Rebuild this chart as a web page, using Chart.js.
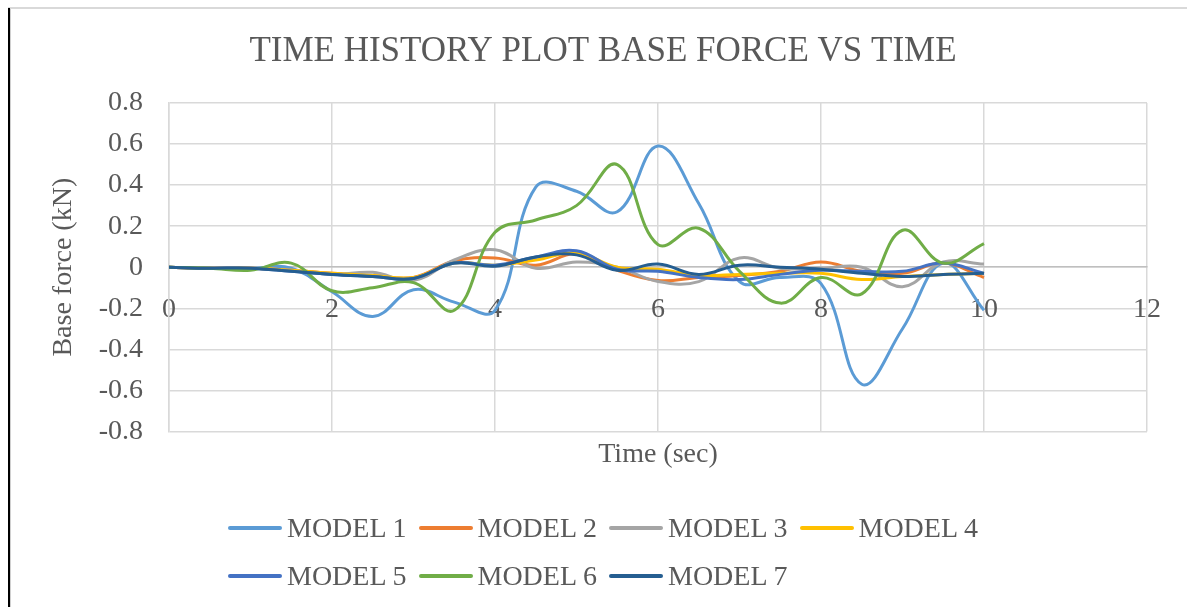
<!DOCTYPE html>
<html>
<head>
<meta charset="utf-8">
<script src="https://cdn.jsdelivr.net/npm/chart.js@4.4.1/dist/chart.umd.min.js"></script>
<style>
  html, body { margin: 0; padding: 0; background: #fff; }
  #wrap { position: relative; width: 1187px; height: 607px; overflow: hidden; }
  #chart { position: absolute; left: 0; top: 0; }
  .frameTop { position: absolute; left: 8px; top: 7px; width: 1179px; height: 2px; background: #d9d9d9; }
  .frameLeft { position: absolute; left: 8px; top: 8px; width: 2px; height: 599px; background: #000; }
  .frameLeft2 { position: absolute; left: 10px; top: 9px; width: 1px; height: 598px; background: #d0d0d0; }
  #legend {
    position: absolute; left: 228px; top: 504px;
    display: grid; grid-template-columns: repeat(4, 190.5px); grid-auto-rows: 48px;
    font-family: 'Liberation Serif', 'Times New Roman', serif; font-size: 28px; color: #595959;
  }
  .item { display: flex; align-items: center; white-space: nowrap; }
  .swatch { width: 54px; height: 4px; border-radius: 2px; margin-right: 5px; }
</style>
</head>
<body>
<div id="wrap">
  <canvas id="chart" width="1187" height="607"></canvas>
  <div class="frameTop"></div>
  <div class="frameLeft"></div>
  <div class="frameLeft2"></div>
  <div id="legend"></div>
</div>
<script>
// time steps (sec)
const times = [0, 0.5, 1, 1.5, 2, 2.5, 3, 3.5, 4, 4.5, 5, 5.5, 6, 6.5, 7, 7.5, 8, 8.5, 9, 9.5, 10];

// base force (kN) per model
const model1 = [0, -0.005, -0.005, -0.005, -0.12, -0.24, -0.11, -0.17, -0.21, 0.39, 0.37, 0.27, 0.59, 0.31, -0.07, -0.05, -0.08, -0.57, -0.3, 0.02, -0.21];
const model2 = [0, -0.005, -0.005, -0.015, -0.03, -0.04, -0.05, 0.03, 0.045, 0.01, 0.065, -0.015, -0.065, -0.05, -0.04, -0.02, 0.025, -0.02, -0.03, 0.02, -0.05];
const model3 = [0, -0.005, -0.005, -0.015, -0.035, -0.025, -0.065, 0.035, 0.085, -0.005, 0.025, 0, -0.07, -0.07, 0.045, -0.005, -0.005, 0, -0.095, 0.025, 0.015];
const model4 = [0, -0.005, -0.005, -0.015, -0.03, -0.04, -0.05, 0.02, 0.01, 0.035, 0.07, 0, -0.01, -0.04, -0.035, -0.03, -0.03, -0.06, -0.045, -0.035, -0.03];
const model5 = [0, -0.005, -0.005, -0.02, -0.035, -0.045, -0.055, 0.02, 0.01, 0.05, 0.08, -0.01, -0.02, -0.05, -0.06, -0.035, -0.015, -0.02, -0.02, 0.02, -0.03];
const model6 = [0, -0.005, -0.015, 0.02, -0.115, -0.1, -0.075, -0.21, 0.17, 0.23, 0.3, 0.5, 0.11, 0.19, -0.02, -0.175, -0.05, -0.13, 0.18, 0.02, 0.115];
const model7 = [0, -0.005, -0.005, -0.02, -0.035, -0.045, -0.055, 0.02, 0.005, 0.05, 0.06, -0.015, 0.015, -0.035, 0.01, 0, -0.01, -0.03, -0.045, -0.035, -0.03];

const modelNames = ['MODEL 1', 'MODEL 2', 'MODEL 3', 'MODEL 4', 'MODEL 5', 'MODEL 6', 'MODEL 7'];
const modelColors = ['#5B9BD5', '#ED7D31', '#A5A5A5', '#FFC000', '#4472C4', '#70AD47', '#255E91'];
const modelValues = [model1, model2, model3, model4, model5, model6, model7];

// y axis tick labels
const yTicks = [-0.8, -0.6, -0.4, -0.2, 0, 0.2, 0.4, 0.6, 0.8];

Chart.defaults.font.family = "'Liberation Serif', 'Times New Roman', serif";
Chart.defaults.color = '#595959';

const datasets = modelValues.map((vals, i) => ({
    label: modelNames[i],
    data: vals.map((v, j) => ({ x: times[j], y: v })),
    borderColor: modelColors[i],
    backgroundColor: modelColors[i],
    borderWidth: 3,
    pointRadius: 0,
    tension: 0.4,
    fill: false,
    order: 7 - i   // later models on top, like the original
}));

// legend as html, laid out in a 4 column grid
const legendEl = document.getElementById('legend');
modelNames.forEach((name, i) => {
    const item = document.createElement('div');
    item.className = 'item';
    item.innerHTML = '<span class="swatch" style="background:' + modelColors[i] + '"></span>' + name;
    legendEl.appendChild(item);
});

const ctx = document.getElementById('chart').getContext('2d');
new Chart(ctx, {
    type: 'line',
    data: { datasets: datasets },
    options: {
        responsive: false,
        animation: false,
        devicePixelRatio: 1,
        layout: { padding: { left: 58, right: 39, top: 0, bottom: 0 } },
        plugins: {
            legend: { display: false },
            tooltip: { enabled: false },
            title: {
                display: true,
                text: 'TIME HISTORY PLOT BASE FORCE VS TIME',
                color: '#595959',
                font: { size: 35, weight: 'normal' },
                padding: { top: 31, bottom: 30 }
            },
            subtitle: {
                display: true,
                position: 'bottom',
                fullSize: false,
                text: 'Time (sec)',
                color: '#595959',
                font: { size: 28 },
                padding: { top: 6, bottom: 136 }
            }
        },
        scales: {
            x: {
                type: 'linear',
                position: { y: 0 },
                min: 0,
                max: 12,
                ticks: { stepSize: 2, font: { size: 28 }, padding: 26, color: '#595959' },
                grid: { color: '#d9d9d9', lineWidth: 1.5, drawTicks: false },
                border: { color: '#bfbfbf', width: 1.5 }
            },
            y: {
                min: -0.8,
                max: 0.8,
                afterBuildTicks: (scale) => { scale.ticks = yTicks.map(v => ({ value: v })); },
                afterFit: (scale) => { scale.width = 111; },
                ticks: {
                    font: { size: 28 },
                    padding: 26,
                    color: '#595959',
                    callback: (v) => String(Math.round(v * 10) / 10)
                },
                grid: { color: '#d9d9d9', lineWidth: 1.5, drawTicks: false },
                border: { color: '#d9d9d9', width: 1.5 },
                title: {
                    display: true,
                    text: 'Base force (kN)',
                    color: '#595959',
                    font: { size: 28 },
                    padding: { top: -11, bottom: 0 }
                }
            }
        }
    }
});
</script>
</body>
</html>
